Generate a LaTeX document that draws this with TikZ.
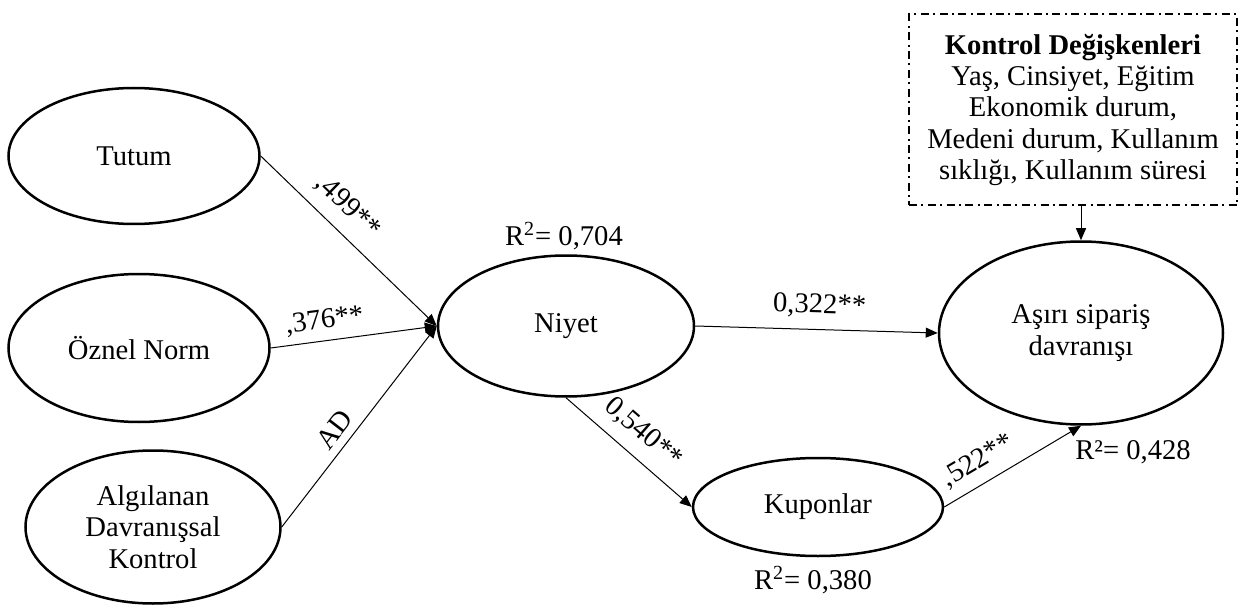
\documentclass[tikz,border=0pt]{standalone}
\usepackage{fontspec}
\setmainfont{Liberation Serif}
\usepackage{tikz}
\usetikzlibrary{arrows.meta, positioning, shapes.geometric}
\newcommand{\dgfont}{\fontsize{14.3}{15.7}\selectfont}

\begin{document}
\begin{tikzpicture}[x=0.5pt, y=-0.5pt,
            lv/.style={ellipse, draw=black, line width=1.25pt, inner sep=0pt, align=center, font=\dgfont},
            ctl/.style={rectangle, draw=black, line width=1pt, dash pattern=on 4pt off 2.2pt on 1pt off 2.2pt, align=center, font=\dgfont},
            pth/.style={draw=black, line width=0.5pt, -{Triangle[length=6pt, width=5pt]}},
            lb/.style={font=\dgfont, sloped, inner sep=0pt},
            rq/.style={font=\dgfont, inner sep=0pt}]
            \useasboundingbox (0,0) rectangle (1238,610);
            % latent variables
            \node[lv, minimum width=125.5pt, minimum height=68pt] (tutum) at (134,156) {Tutum};
            \node[lv, minimum width=130.5pt, minimum height=74pt] (oznel) at (139,348) {Öznel Norm};
            \node[lv, minimum width=127.5pt, minimum height=76.5pt] (algilanan) at (153,527) {Algılanan\\Davranışsal\\Kontrol};
            \node[lv, minimum width=128pt, minimum height=70.5pt] (niyet) at (566,326) {Niyet};
            \node[lv, minimum width=125pt, minimum height=49pt] (kupon) at (818,507) {Kuponlar};
            \node[lv, minimum width=142pt, minimum height=91.5pt] (asiri) at (1081,333) {Aşırı sipariş\\davranışı};
            \node[ctl, minimum width=164pt, minimum height=95.5pt] (kontrol) at (1073,110) {\textbf{Kontrol Değişkenleri}\\Yaş, Cinsiyet, Eğitim\\Ekonomik durum,\\Medeni durum, Kullanım\\sıklığı, Kullanım süresi};
            % explained variance
            \node[rq] (rniyet) at (564,236) {R\textsuperscript{2}= 0,704};
            \node[rq] (rkupon) at (813,580) {R\textsuperscript{2}= 0,380};
            \node[rq] (rasiri) at (1133,452) {R²= 0,428};
            % paths
            \draw[pth] (tutum.east) -- node[lb, pos=0.40, above=6pt] {,499**} (niyet.west);
            \draw[pth] (oznel.east) -- node[lb, pos=0.34, above=3.7pt] {,376**} (niyet.west);
            \draw[pth] (algilanan.east) -- node[lb, pos=0.43, above=4pt] {AD} (niyet.west);
            \draw[pth] (niyet.south) -- node[lb, pos=0.49, above=6pt] {0,540**} (kupon.west);
            \draw[pth] (niyet.east) -- node[lb, pos=0.51, above=5.7pt] {0,322**} (asiri.west);
            \draw[pth] (kupon.east) -- node[lb, pos=0.33, above=5pt] {,522**} (asiri.south);
            \draw[pth] (kontrol.south -| asiri.north) -- (asiri.north);
        \end{tikzpicture}
\end{document}
